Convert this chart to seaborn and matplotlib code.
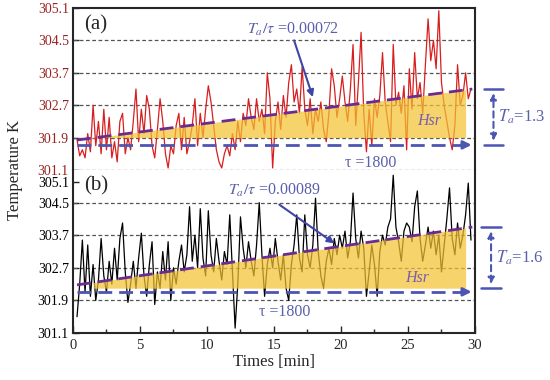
import numpy as np
import matplotlib.pyplot as plt
import seaborn as sns

# sample times [min], one reading every 0.2 min
time_min = np.round(0.3 + 0.2 * np.arange(148), 1)

# panel (a) temperature [K]
temp_a = [
    301.85, 301.45, 301.6, 301.4, 302.0, 301.55, 302.7, 301.7, 302.3, 301.5,
    302.6, 301.6, 302.4, 301.4, 301.8, 301.3, 302.3, 302.5, 301.5, 301.9,
    301.6, 302.3, 303.2, 301.8, 302.6, 302.0, 303.0, 302.6, 301.7, 301.4,
    302.1, 302.9, 302.3, 301.5, 301.15, 301.7, 301.5, 302.2, 302.5, 301.6,
    302.4, 301.5, 301.8, 302.2, 302.9, 301.7, 302.5, 301.9, 302.6, 303.3,
    302.8, 302.2, 301.6, 301.3, 301.15, 301.5, 301.7, 301.45, 302.0, 301.6,
    302.3, 301.8, 302.5, 302.2, 302.9, 302.4, 302.1, 302.9, 302.3, 302.6,
    302.0, 303.7, 302.9, 301.15, 302.3, 302.8, 302.1, 303.0, 302.4, 303.4,
    303.9, 302.8, 303.2, 302.5, 303.85, 302.6, 302.2, 302.9, 302.0, 302.6,
    302.3, 302.8, 302.1, 301.8, 302.5, 303.8, 303.3, 302.4, 302.9, 303.6,
    302.8, 302.3, 303.2, 304.4, 302.2, 303.4, 304.65, 302.5, 301.55, 302.6,
    301.7, 302.9, 302.4, 303.0, 304.2, 302.8, 302.3, 301.8, 304.4, 302.7,
    303.1, 302.5, 303.3, 301.6, 303.8, 302.6, 304.2, 302.9, 303.4, 302.5,
    303.9, 304.9, 304.0, 304.5, 303.8, 305.05, 303.4, 302.7, 302.3, 301.9,
    301.6, 302.2, 303.9, 302.7, 303.0, 303.7, 302.9, 303.2,
]

# panel (b) temperature [K]
temp_b = [
    301.5, 302.3, 303.55, 302.1, 303.4, 302.0, 302.8, 301.9, 302.4, 303.6,
    302.5, 302.1, 302.9, 302.3, 303.3, 302.4, 303.6, 304.0, 302.6, 301.85,
    302.3, 302.9, 302.2, 303.0, 303.75, 302.5, 302.0, 302.8, 303.5, 301.8,
    302.6, 302.2, 303.2, 302.4, 303.5, 301.9, 302.7, 302.3, 302.9, 303.4,
    302.6, 303.1, 304.4, 302.9, 303.7, 302.7, 304.35, 303.0, 302.5, 304.3,
    303.1, 302.6, 303.6, 302.9, 302.4, 303.2, 302.8, 304.2, 302.6, 301.22,
    302.3, 304.15, 303.3, 302.7, 303.5, 302.9, 302.5, 303.4, 304.5, 303.1,
    302.0, 302.8, 303.3, 302.7, 303.6, 302.9, 302.4, 303.1, 302.2, 301.9,
    302.8, 303.4, 304.2, 303.0, 302.6, 304.2, 303.1, 302.7, 303.4, 304.63,
    303.2, 302.5, 302.2, 302.9, 303.3, 302.8, 303.6, 303.1, 303.7, 303.3,
    303.8, 303.0, 303.5, 304.78, 303.6, 303.0, 303.8, 303.3, 302.0, 302.6,
    303.4, 302.8, 302.0, 303.2, 303.7, 303.4, 303.9, 304.1, 305.3, 303.9,
    303.5, 302.9, 303.8, 304.0, 303.9, 303.5, 304.4, 304.84, 303.6, 302.9,
    303.4, 303.9, 303.3, 303.8, 303.1, 303.7, 302.6, 303.4, 304.1, 304.93,
    303.6, 303.1, 304.0, 303.3, 303.7, 304.2, 305.07, 303.55,
]

# tick labels of the two temperature axes
yticks_a = [301.1, 301.9, 302.7, 303.7, 304.5, 305.1]
yticks_b = [301.1, 301.9, 302.7, 303.7, 304.5, 305.1]

# fitted heating lines (start, end) and reference levels
trend_t = (0.3, 29.8)
trend_a = (301.84, 303.2)
trend_b = (302.28, 303.9)
tau_a, tau_b = 301.72, 302.11
base_a, base_b = 301.9, 302.2


def make_scale(vals, pos):
    vals = np.asarray(vals, float)
    pos = np.asarray(pos, float)

    def lin(v, xs, ys):
        v = np.asarray(v, float)
        out = np.interp(v, xs, ys)
        lo_s = (ys[1] - ys[0]) / (xs[1] - xs[0])
        hi_s = (ys[-1] - ys[-2]) / (xs[-1] - xs[-2])
        out = np.where(v < xs[0], ys[0] + (v - xs[0]) * lo_s, out)
        out = np.where(v > xs[-1], ys[-1] + (v - xs[-1]) * hi_s, out)
        return out

    return (lambda v: lin(v, vals, pos)), (lambda p: lin(p, pos, vals))


sns.set_style("ticks")
plt.rcParams["font.family"] = ["Liberation Serif", "DejaVu Serif"]
plt.rcParams["mathtext.fontset"] = "stix"

LINE_BLUE = "#4d55b3"
TEXT_BLUE = "#5b60aa"
PURPLE = "#6a2c92"
FILL = "#f4c232"

fig = plt.figure(figsize=(5.5, 3.8), dpi=100)
ax_a = fig.add_axes([0.1327, 0.5526, 0.7309, 0.4263])
ax_b = fig.add_axes([0.1327, 0.1237, 0.7309, 0.4289], sharex=ax_a)

panels = [
    (ax_a, temp_a, "#d81e1e", yticks_a, [0, 1, 2, 3, 4, 5], trend_a, tau_a, base_a, 1.0, "#9a2222"),
    (ax_b, temp_b, "black", yticks_b, [0, 1, 2, 3, 4, 4.63], trend_b, tau_b, base_b, 1.5, "black"),
]

for ax, temp, col, yt, pos, trend, tau, base, fill_x0, lab_col in panels:
    fwd, inv = make_scale(yt, pos)
    ax.set_yscale("function", functions=(fwd, inv))
    ax.set_ylim(float(inv(0)), float(inv(5)))

    sns.lineplot(x=time_min, y=temp, ax=ax, color=col, lw=0.9, zorder=2)

    # heating region under the fitted line
    p0, p1 = fwd(trend[0]), fwd(trend[1])
    def trend_at(x):
        return float(inv(p0 + (x - trend_t[0]) / (trend_t[1] - trend_t[0]) * (p1 - p0)))
    fx = [fill_x0, 29.3]
    ax.fill_between(fx, [base, base], [trend_at(fx[0]), trend_at(fx[1])],
                    color=FILL, alpha=0.72, lw=0, zorder=3)

    ax.plot(trend_t, trend, ls=(0, (5, 2.5)), color=PURPLE, lw=2, zorder=4)
    ax.plot([0.3, 29.2], [tau, tau], ls=(0, (5, 2.5)), color=LINE_BLUE, lw=2, zorder=4)
    ax.annotate("", xy=(29.75, tau), xytext=(29.0, tau),
                arrowprops=dict(arrowstyle="-|>", color=LINE_BLUE, lw=2,
                                mutation_scale=12, shrinkA=0, shrinkB=0), zorder=4)

    ax.set_yticks(yt)
    ax.set_yticklabels([f"{v:.1f}" for v in yt], color=lab_col, fontsize=10)
    ax.tick_params(axis="y", direction="in", length=4, width=1, pad=3)
    ax.set_ylabel("")

    for s in ax.spines.values():
        s.set_linewidth(1.5)

ax_a.set_xlim(0, 30)
for v in [301.1, 301.9, 302.7, 303.7, 304.5]:
    ax_a.axhline(v, ls=(0, (3, 2)), color="#555555", lw=0.9, zorder=1, clip_on=False)
for v in [301.9, 302.7, 303.7, 304.5]:
    ax_b.axhline(v, ls=(0, (3, 2)), color="#555555", lw=0.9, zorder=1)

ax_a.spines["bottom"].set_visible(False)
ax_b.spines["top"].set_visible(False)
ax_a.tick_params(axis="x", which="both", bottom=False, labelbottom=False)

ax_b.set_xticks([0, 5, 10, 15, 20, 25, 30])
ax_b.set_xticks(np.arange(2.5, 30, 5), minor=True)
ax_b.tick_params(axis="x", which="major", direction="in", length=5, width=1, labelsize=10.5, pad=4)
ax_b.tick_params(axis="x", which="minor", direction="in", length=3, width=1)
ax_b.set_xlabel("Times [min]", fontsize=12, labelpad=2)

fig.text(0.028, 0.553, "Temperature K", rotation=90, ha="center", va="center", fontsize=12)

# panel letters
ax_a.text(0.057, 0.895, "(a)", transform=ax_a.transAxes, ha="center", va="center", fontsize=15)
ax_b.text(0.057, 0.905, "(b)", transform=ax_b.transAxes, ha="center", va="center", fontsize=15)

# slope annotations
ax_a.text(13.0, 0.87, r"$T_a/\tau$ =0.00072", transform=ax_a.get_xaxis_transform(),
          ha="left", va="center", color=TEXT_BLUE, fontsize=11.5)
ax_a.annotate("", xy=(17.9, 302.95), xytext=(16.5, 304.5),
              arrowprops=dict(arrowstyle="-|>", color="#4046a6", lw=1.5, mutation_scale=10,
                              shrinkA=0, shrinkB=0), zorder=5)
ax_b.text(11.6, 0.877, r"$T_a/\tau$ =0.00089", transform=ax_b.get_xaxis_transform(),
          ha="left", va="center", color=TEXT_BLUE, fontsize=11.5)
ax_b.annotate("", xy=(19.5, 303.45), xytext=(15.4, 304.45),
              arrowprops=dict(arrowstyle="-|>", color="#4046a6", lw=1.5, mutation_scale=10,
                              shrinkA=0, shrinkB=0), zorder=5)

# tau labels
ax_a.text(22.2, 0.045, "τ =1800", transform=ax_a.get_xaxis_transform(),
          ha="center", va="center", color=TEXT_BLUE, fontsize=11.5)
ax_b.text(15.8, 0.13, "τ =1800", transform=ax_b.get_xaxis_transform(),
          ha="center", va="center", color=TEXT_BLUE, fontsize=11.5)

# Hsr labels
ax_a.text(26.6, 0.30, "Hsr", transform=ax_a.get_xaxis_transform(), style="italic",
          ha="center", va="center", color="#7a5cb0", fontsize=11.5, zorder=6)
ax_b.text(25.7, 0.34, "Hsr", transform=ax_b.get_xaxis_transform(), style="italic",
          ha="center", va="center", color="#7a5cb0", fontsize=11.5, zorder=6)

# T_a brackets on the right
for ax, hi, lo, label, xb in [(ax_a, trend_a[1], tau_a, r"$T_a$=1.3", 1.046),
                              (ax_b, trend_b[1], base_b, r"$T_a$=1.6", 1.040)]:
    tr = ax.get_yaxis_transform()
    for y in (hi, lo):
        ax.plot([xb - 0.024, xb + 0.024], [y, y], color=LINE_BLUE, lw=1.8,
                transform=tr, clip_on=False)
    ax.annotate("", xy=(xb, hi), xytext=(xb, lo), xycoords=tr, textcoords=tr,
                arrowprops=dict(arrowstyle="<|-|>", color=LINE_BLUE, lw=1.5, ls=(0, (3, 2)),
                                mutation_scale=9, shrinkA=3, shrinkB=3))
    mid = float(ax.transData.inverted().transform(
        (0, (ax.transData.transform((0, hi))[1] + ax.transData.transform((0, lo))[1]) / 2))[1])
    ax.text(xb + 0.012, mid, label, transform=tr, ha="left", va="center",
            color=TEXT_BLUE, fontsize=12)

fig.savefig("out.png", dpi=100)
